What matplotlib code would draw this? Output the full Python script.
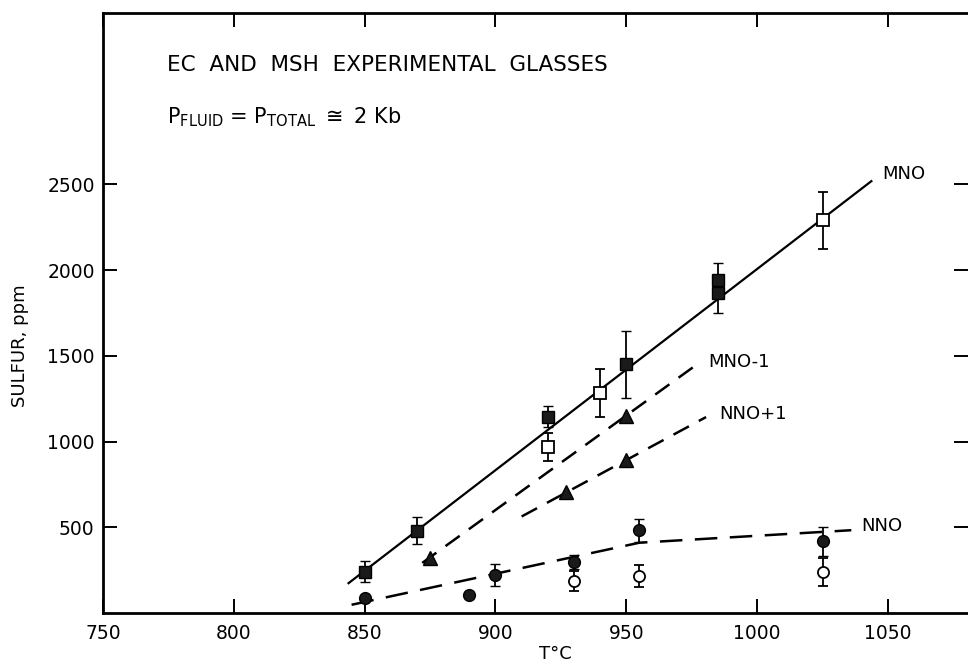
import matplotlib
matplotlib.use("Agg")
import matplotlib.pyplot as plt

plt.rcParams['font.family'] = ['DejaVu Sans']
plt.rcParams['mathtext.fontset'] = 'dejavusans'

# ---- data (T in deg C, sulfur in ppm) ----
fsq_T = [850, 870, 920, 950, 985, 985]
fsq_S = [240, 480, 1145, 1450, 1942, 1867]
fsq_lo = [62, 78, 62, 193, 0, 116]
fsq_hi = [62, 78, 62, 193, 98, 0]

osq_T = [920, 940, 1025]
osq_S = [970, 1285, 2290]
osq_err = [82, 139, 165]

tri_T = [875, 927, 950, 950]
tri_S = [319, 707, 1148, 893]

fci_T = [850, 890, 900, 930, 955, 1025]
fci_S = [87, 104, 222, 297, 483, 419]
fci_err = [0, 0, 64, 43, 67, 84]

oci_T = [930, 955, 1025]
oci_S = [187, 216, 239]
oci_err = [58, 66, 84]

mno_T = [843.5, 1044]
mno_S = [170, 2523]
mno1_T = [872, 977]
mno1_S = [292, 1450]
nnop1_T = [910, 980.5]
nnop1_S = [563, 1143]
nno_T = [845, 955, 1036]
nno_S = [48, 410, 483]

x_ticks = [750, 800, 850, 900, 950, 1000, 1050]
y_ticks = [500, 1000, 1500, 2000, 2500]

title_text = "EC  AND  MSH  EXPERIMENTAL  GLASSES"
press_text = r"$\mathregular{P_{FLUID}}$ = $\mathregular{P_{TOTAL}}$ $\cong$ 2 Kb"
line_labels = [("MNO", 1047.7, 2562), ("MNO-1", 981.2, 1467),
               ("NNO+1", 985.4, 1159), ("NNO", 1039.7, 505)]

fig = plt.figure(figsize=(9.68, 6.62), dpi=100)
ax = fig.add_axes([103/968, 49/662, 865/968, 600/662])
ax.set_xlim(750, 1080.6)
ax.set_ylim(0, 3500)

# lines
ax.plot(mno_T, mno_S, color='black', lw=1.6, solid_capstyle='butt', zorder=2)
ax.plot(mno1_T, mno1_S, color='black', lw=1.8, dashes=(7, 4.5), zorder=2)
ax.plot(nnop1_T, nnop1_S, color='black', lw=1.8, dashes=(7, 4.5), zorder=2)
ax.plot(nno_T, nno_S, color='black', lw=1.8, dashes=(9, 5), zorder=2)

ebkw = dict(ecolor='black', elinewidth=1.3, capsize=3.5, capthick=1.3, linestyle='none', zorder=3)

ax.errorbar(fsq_T, fsq_S, yerr=[fsq_lo, fsq_hi], marker='s', ms=8,
            mfc='#1a1a1a', mec='black', mew=1.0, **ebkw)
ax.errorbar(osq_T, osq_S, yerr=osq_err, marker='s', ms=8,
            mfc='white', mec='black', mew=1.3, **ebkw)
ax.plot(tri_T, tri_S, linestyle='none', marker='^', ms=9.5,
        mfc='#1a1a1a', mec='black', zorder=3)
ax.errorbar(fci_T, fci_S, yerr=fci_err, marker='o', ms=8.5,
            mfc='#1a1a1a', mec='black', mew=1.0, **ebkw)
ax.errorbar(oci_T, oci_S, yerr=oci_err, marker='o', ms=8,
            mfc='white', mec='black', mew=1.3, **ebkw)

# text
ax.text(774.5, 3159, title_text, fontsize=15.5, va='baseline', ha='left')
ax.text(774.5, 2858, press_text, fontsize=15, va='baseline', ha='left')
for lab, lx, ly in line_labels:
    ax.text(lx, ly, lab, fontsize=13, va='center', ha='left')

# axes styling
ax.set_xticks(x_ticks)
ax.set_yticks(y_ticks)
ax.set_xticklabels([str(v) for v in x_ticks])
ax.set_yticklabels([str(v) for v in y_ticks])
ax.tick_params(direction='in', length=10, width=1.4, labelsize=13.5,
               top=True, right=True, color='black')
ax.tick_params(axis='x', pad=8)
ax.tick_params(axis='y', pad=6)
for side in ['left', 'bottom', 'top']:
    ax.spines[side].set_linewidth(2.0)
ax.spines['right'].set_visible(False)

ax.set_xlabel("T°C", fontsize=13)
ax.xaxis.set_label_coords(0.5225, -0.053)
ax.set_ylabel("SULFUR, ppm", fontsize=13)
ax.yaxis.set_label_coords(-0.086, 0.446)

fig.savefig("out.png", dpi=100)
